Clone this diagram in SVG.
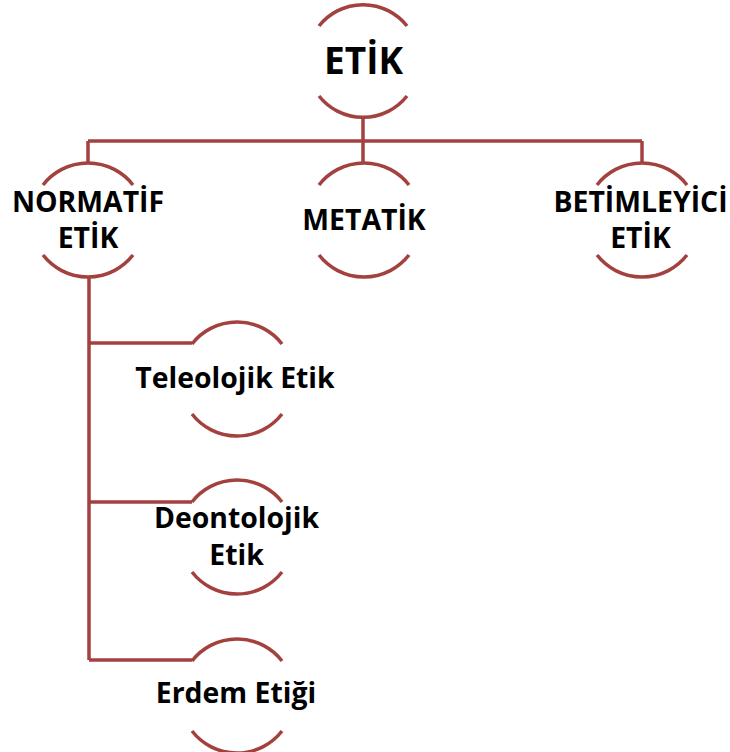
<svg xmlns="http://www.w3.org/2000/svg" width="730" height="752" viewBox="0 0 730 752">
<style>
.arc{fill:none;stroke:#A3413F;stroke-width:3.5;stroke-linecap:butt}
.ln{fill:none;stroke:#A3413F;stroke-width:3.5}
.t{font-family:"Open Sans",Lato,"Liberation Sans",sans-serif;font-weight:bold;fill:#000;text-anchor:middle;font-size:28.4px}
.big{font-size:37px}
</style>
<rect width="730" height="752" fill="#fff"/>
<g id="connectors">
<path class="ln" d="M363 117 V141 M88 141 H642 M88 141 V163 M363 141 V163 M642 141 V163"/>
<path class="ln" d="M89 277 V660 M89 343 H192 M89 502 H192 M89 660 H192"/>
</g>
<g id="n-etik">
<path class="arc" d="M319 26 A56 56 0 0 1 407 26"/>
<path class="arc" d="M319 96 A56 56 0 0 0 407 96"/>
<text class="t big" x="363.5" y="74">ETİK</text>
</g>
<g id="n-normatif">
<path class="arc" d="M43 185 A57 57 0 0 1 133 185"/>
<path class="arc" d="M43 255 A57 57 0 0 0 133 255"/>
<text class="t" x="88" y="212">NORMATİF</text>
<text class="t" x="88" y="248">ETİK</text>
</g>
<g id="n-metatik">
<path class="arc" d="M319 185 A57 57 0 0 1 409 185"/>
<path class="arc" d="M319 255 A57 57 0 0 0 409 255"/>
<text class="t" x="364" y="230">METATİK</text>
</g>
<g id="n-betimleyici">
<path class="arc" d="M597 185 A57 57 0 0 1 687 185"/>
<path class="arc" d="M597 255 A57 57 0 0 0 687 255"/>
<text class="t" x="640.5" y="212">BETİMLEYİCİ</text>
<text class="t" x="640.5" y="248">ETİK</text>
</g>
<g id="n-teleolojik">
<path class="arc" d="M192 344 A57 57 0 0 1 282 344"/>
<path class="arc" d="M192 414 A57 57 0 0 0 282 414"/>
<text class="t" x="235" y="388">Teleolojik Etik</text>
</g>
<g id="n-deontolojik">
<path class="arc" d="M192 502 A57 57 0 0 1 282 502"/>
<path class="arc" d="M192 572 A57 57 0 0 0 282 572"/>
<text class="t" x="236.5" y="528">Deontolojik</text>
<text class="t" x="236.5" y="565">Etik</text>
</g>
<g id="n-erdem">
<path class="arc" d="M192 661 A57 57 0 0 1 282 661"/>
<path class="arc" d="M192 731 A57 57 0 0 0 282 731"/>
<text class="t" x="236" y="703">Erdem Etiği</text>
</g>
</svg>
